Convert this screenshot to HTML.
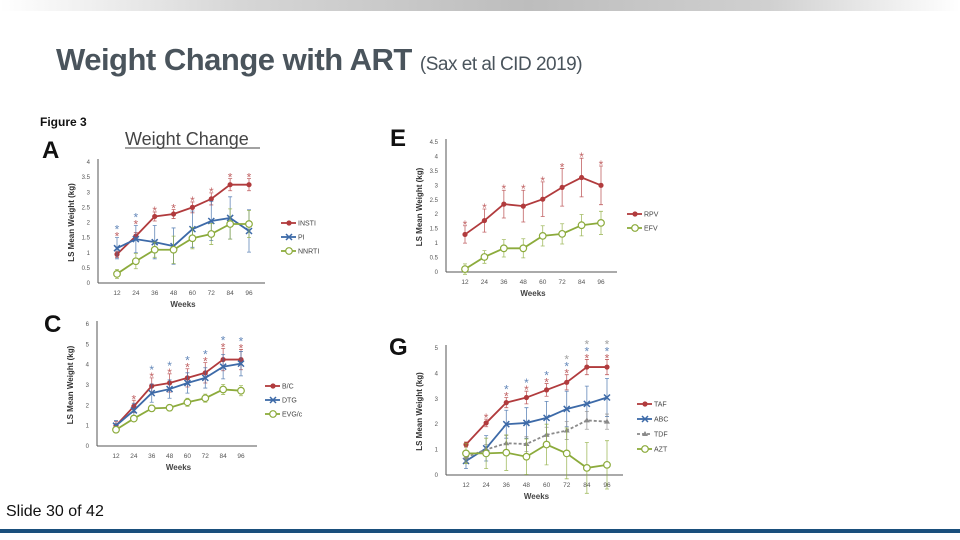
<!DOCTYPE html>
<html><head><meta charset="utf-8">
<style>
html,body{margin:0;padding:0;background:#fff;}
#slide{position:relative;width:960px;height:540px;overflow:hidden;background:#fff;font-family:"Liberation Sans",sans-serif;}
#topbar{position:absolute;left:0;top:0;width:960px;height:11px;background:linear-gradient(90deg,#fff 0%,#d6d6d6 25%,#bdbdbd 55%,#d0d0d0 80%,#fff 100%);}
#title{position:absolute;left:56px;top:42px;font-size:31px;font-weight:bold;color:#4a545c;font-family:"Liberation Sans Narrow","Liberation Sans",sans-serif;letter-spacing:-0.5px;white-space:nowrap;}
#title span{font-size:19px;font-weight:normal;}
#footer{position:absolute;left:6px;top:503px;font-size:16px;color:#111;font-family:"Liberation Sans Narrow","Liberation Sans",sans-serif;}
#bottombar{position:absolute;left:0;top:529px;width:960px;height:4px;background:#1a4f7c;}
svg{position:absolute;left:0;top:0;}
</style></head><body>
<div id="slide">
<div id="topbar"></div>
<div id="title">Weight Change with ART <span>(Sax et al CID 2019)</span></div>
<div id="footer">Slide 30 of 42</div>
<div id="bottombar"></div>
<svg id="chart" width="960" height="540"></svg>
</div>
<script>
const weeks = ["12","24","36","48","60","72","84","96"];
// Panel A
const aInsti = [0.95,1.55,2.2,2.28,2.5,2.78,3.25,3.25];
const aInstiErr = [0.1,0.12,0.15,0.15,0.18,0.2,0.2,0.2];
const aPi = [1.15,1.45,1.35,1.22,1.78,2.05,2.15,1.72];
const aPiErr = [0.35,0.45,0.55,0.6,0.6,0.65,0.7,0.7];
const aNnrti = [0.3,0.72,1.1,1.1,1.48,1.62,1.95,1.95];
const aNnrtiErr = [0.15,0.25,0.25,0.45,0.35,0.35,0.5,0.45];
const aTicks = ["0","0.5","1","1.5","2","2.5","3","3.5","4"];
// Panel E
const eRpv = [1.3,1.78,2.35,2.28,2.52,2.93,3.27,3.0];
const eRpvErr = [0.3,0.4,0.48,0.55,0.6,0.65,0.67,0.67];
const eEfv = [0.1,0.52,0.82,0.82,1.25,1.32,1.62,1.7];
const eEfvErr = [0.18,0.22,0.3,0.33,0.35,0.35,0.37,0.4];
const eTicks = ["0","0.5","1","1.5","2","2.5","3","3.5","4","4.5"];
// Panel C
const cBic = [1.0,1.95,2.95,3.1,3.35,3.6,4.25,4.25];
const cBicErr = [0.2,0.3,0.4,0.45,0.45,0.5,0.55,0.5];
const cDtg = [1.0,1.75,2.6,2.8,3.1,3.35,3.9,4.05];
const cDtgErr = [0.25,0.35,0.45,0.45,0.5,0.5,0.6,0.6];
const cEvg = [0.8,1.35,1.85,1.88,2.15,2.35,2.78,2.72];
const cEvgErr = [0.1,0.15,0.15,0.15,0.2,0.2,0.25,0.25];
const cTicks = ["0","1","2","3","4","5","6"];
// Panel G
const gTaf = [1.2,2.05,2.85,3.05,3.35,3.65,4.25,4.25];
const gTafErr = [0.1,0.15,0.2,0.25,0.25,0.3,0.3,0.3];
const gAbc = [0.55,1.05,2.0,2.05,2.25,2.6,2.8,3.05];
const gAbcErr = [0.3,0.5,0.55,0.6,0.65,0.7,0.7,0.75];
const gTdf = [0.7,1.0,1.25,1.22,1.58,1.75,2.15,2.1];
const gTdfErr = [0.2,0.2,0.3,0.3,0.3,0.35,0.35,0.3];
const gAzt = [0.85,0.85,0.88,0.72,1.2,0.85,0.28,0.4];
const gAztErr = [0.4,0.6,0.7,0.7,0.8,1.0,1.0,0.95];
const gTicks = ["0","1","2","3","4","5"];

const RED="#b13b3d", BLUE="#3d6aa8", GREEN="#8cab3c", GRAY="#8a8a8a";
const svg=document.getElementById('chart');
const NS="http://www.w3.org/2000/svg";
function mk(tag,attrs,parent){const e=document.createElementNS(NS,tag);for(const k in attrs)e.setAttribute(k,attrs[k]);(parent||svg).appendChild(e);return e;}
function txt(s,attrs,parent){const e=mk('text',attrs,parent);e.textContent=s;return e;}

function panel(p){
  const g=mk('g',{});
  
  
  const ymax=parseFloat(p.ticks[p.ticks.length-1]);
  const Y=v=>p.y0-(v/ymax)*(p.y0-p.yTop);
  const X=i=>p.x12+i*(p.x96-p.x12)/(weeks.length-1);
  const ya=mk('line',{x1:p.ax,y1:p.yTop-3,x2:p.ax,y2:p.y0,stroke:"#555","stroke-width":1},g);
  
  const xa=mk('line',{x1:p.ax,y1:p.y0,x2:p.x96+16,y2:p.y0,stroke:"#555","stroke-width":1},g);
  
  p.ticks.forEach(t=>{const e=txt(t,{x:p.ax-8,y:Y(parseFloat(t))+2,'font-size':6,fill:"#555",'text-anchor':'end'},g);
    });
  weeks.forEach((w,i)=>{const e=txt(w,{x:X(i),y:p.y0+12,'font-size':6.5,fill:"#555",'text-anchor':'middle'},g);
    });
  const xt=txt("Weeks",{x:(p.x12+p.x96)/2,y:p.y0+24,'font-size':8,'font-weight':'bold',fill:"#444",'text-anchor':'middle'},g);
  
  const cy=(p.y0+p.yTop)/2, cx=p.ax-24;
  const yt=txt("LS Mean Weight (kg)",{x:cx,y:cy,'font-size':8,'font-weight':'bold',fill:"#333",'text-anchor':'middle',transform:`rotate(-90 ${cx} ${cy})`},g);
  
  const lt=txt(p.letter,{x:p.lx,y:p.ly,'font-size':24,'font-weight':'bold',fill:"#111"},g);
  
  p.series.forEach((s,si)=>{
    const sg=mk('g',{},g);
    
    
    s.vals.forEach((v,i)=>{const e=s.err[i];
      const b=mk('path',{d:`M${X(i)},${Y(v-e)}V${Y(v+e)}M${X(i)-2},${Y(v-e)}h4M${X(i)-2},${Y(v+e)}h4`,stroke:s.color,'stroke-width':0.8,fill:'none',opacity:0.8},sg);
      });
    const d=s.vals.map((v,i)=>(i?'L':'M')+X(i)+','+Y(v)).join('');
    const ln=mk('path',{d,stroke:s.color,'stroke-width':1.8,fill:'none','stroke-dasharray':s.dash||''},sg);
    
    s.vals.forEach((v,i)=>{marker(sg,s,X(i),Y(v));});
    const ly=p.legY+si*p.legGap;
    const ll=mk('line',{x1:p.legX,y1:ly,x2:p.legX+15,y2:ly,stroke:s.color,'stroke-width':1.8,'stroke-dasharray':s.dash||''},g);
    
    marker(g,s,p.legX+8,ly);
    const le=txt(s.label,{x:p.legX+17,y:ly+2.5,'font-size':7,fill:"#444"},g);
    
    if(s.stars) s.stars.forEach((on,i)=>{ if(!on) return;
      const top=Math.max(...p.series.map(q=>q.vals[i]+q.err[i]));
      const st=txt('*',{x:X(i),y:Y(top)-4-si*7+7,'font-size':12,fill:s.color,'text-anchor':'middle',opacity:0.8},g);
      });
  });
}
function marker(g,s,x,y){
  let m;
  if(s.m==='dot') m=mk('circle',{cx:x,cy:y,r:2.6,fill:s.color},g);
  else if(s.m==='open') m=mk('circle',{cx:x,cy:y,r:3.3,fill:'#fff',stroke:s.color,'stroke-width':1.2},g);
  else if(s.m==='x') m=mk('path',{d:`M${x-3},${y-3}L${x+3},${y+3}M${x-3},${y+3}L${x+3},${y-3}`,stroke:s.color,'stroke-width':1.5},g);
  else m=mk('path',{d:`M${x},${y-3}L${x+3},${y+2}L${x-3},${y+2}Z`,fill:s.color},g);
  
}
const f3=txt("Figure 3",{x:40,y:126,'font-size':12,'font-weight':'bold',fill:"#111"});

const wc=txt("Weight Change",{x:125,y:145,'font-size':18,fill:"#444"});

const ul=mk('line',{x1:125,y1:148,x2:260,y2:148,stroke:"#444",'stroke-width':1});


panel({name:'panel-a',letter:'A',lx:42,ly:158,ax:98,y0:283,yTop:162,x12:117,x96:249,ticks:aTicks,legX:281,legY:223,legGap:14,series:[
 {label:'INSTI',vals:aInsti,err:aInstiErr,color:RED,m:'dot',stars:[1,1,1,1,1,1,1,1]},
 {label:'PI',vals:aPi,err:aPiErr,color:BLUE,m:'x',stars:[1,1,0,0,0,0,0,0]},
 {label:'NNRTI',vals:aNnrti,err:aNnrtiErr,color:GREEN,m:'open'}]});
panel({name:'panel-e',letter:'E',lx:390,ly:146,ax:446,y0:272,yTop:142,x12:465,x96:601,ticks:eTicks,legX:627,legY:214,legGap:14,series:[
 {label:'RPV',vals:eRpv,err:eRpvErr,color:RED,m:'dot',stars:[1,1,1,1,1,1,1,1]},
 {label:'EFV',vals:eEfv,err:eEfvErr,color:GREEN,m:'open'}]});
panel({name:'panel-c',letter:'C',lx:44,ly:332,ax:97,y0:446,yTop:324,x12:116,x96:241,ticks:cTicks,legX:265,legY:386,legGap:14,series:[
 {label:'B/C',vals:cBic,err:cBicErr,color:RED,m:'dot',stars:[0,1,1,1,1,1,1,1]},
 {label:'DTG',vals:cDtg,err:cDtgErr,color:BLUE,m:'x',stars:[0,0,1,1,1,1,1,1]},
 {label:'EVG/c',vals:cEvg,err:cEvgErr,color:GREEN,m:'open'}]});
panel({name:'panel-g',letter:'G',lx:389,ly:355,ax:446,y0:475,yTop:348,x12:466,x96:607,ticks:gTicks,legX:637,legY:404,legGap:15,series:[
 {label:'TAF',vals:gTaf,err:gTafErr,color:RED,m:'dot',stars:[0,1,1,1,1,1,1,1]},
 {label:'ABC',vals:gAbc,err:gAbcErr,color:BLUE,m:'x',stars:[0,0,1,1,1,1,1,1]},
 {label:'TDF',vals:gTdf,err:gTdfErr,color:GRAY,m:'tri',dash:'3,2',stars:[0,0,0,0,0,1,1,1]},
 {label:'AZT',vals:gAzt,err:gAztErr,color:GREEN,m:'open'}]});
</script>
</body></html>
